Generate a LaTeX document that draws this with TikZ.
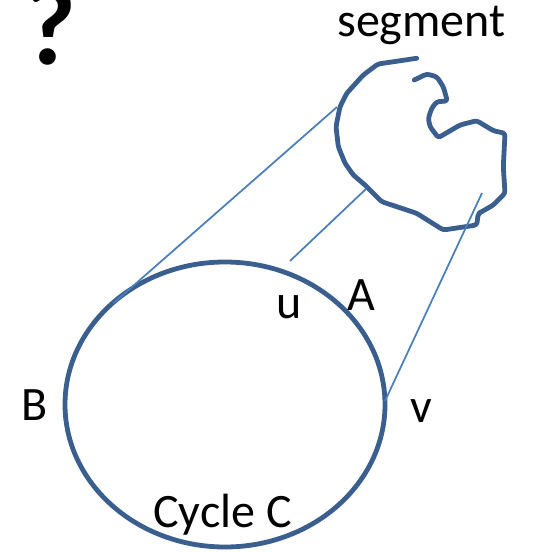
\documentclass[tikz,border=0pt]{standalone}
\usepackage{fontspec}
\usetikzlibrary{shapes.geometric}
\setmainfont{Carlito}
\definecolor{dkblue}{HTML}{3A5F8F}
\definecolor{ltblue}{HTML}{4A7EBB}
\tikzset{
  thick stroke/.style={draw=dkblue, line width=3.6pt, line join=round, line cap=round},
  thin stroke/.style={draw=ltblue, line width=1.3pt},
  lbl/.style={font=\fontsize{36}{42}\selectfont, inner sep=0pt, anchor=base west},
}
\begin{document}
\begin{tikzpicture}[x=0.75pt,y=-0.75pt]
\useasboundingbox (0,0) rectangle (533,552);
% cycle
\node[thick stroke, ellipse, minimum width=240pt, minimum height=213.75pt, inner sep=0pt] (cyc) at (225,404.5) {};
% segment
\draw[thick stroke, rounded corners=2pt] (416.7,58.3) -- (378,64) -- (363.3,75) -- (346.7,93.3) -- (340,106.7) -- (336,126.7) -- (338.3,146.7) -- (345,163.3) -- (353.3,175) -- (365,185) -- (381.7,201.7) -- (416.7,213.3) -- (430,221.7) -- (443.3,230) -- (476.7,225) -- (478.3,213.3) -- (481.7,211.7) -- (493.3,205) -- (505,193.3) -- (503.3,166.7) -- (505,133.3) -- (493.3,130.7) -- (476.7,120.7) -- (460,125) -- (438.3,137.7) -- (430,126.7) -- (428.3,118.3) -- (431.7,108.3) -- (436.7,101.7) -- (447.3,101) -- (443.3,86.7) -- (436.7,76.7) -- (426.7,74) -- (414.3,80);
% connectors
\coordinate (l1a) at (113.3,303.3);
\coordinate (l1b) at (337,107);
\coordinate (l2a) at (290,261);
\coordinate (l2b) at (366,189);
\coordinate (l3a) at (385,401);
\coordinate (l3b) at (482,193);
\draw[thin stroke] (l1a) -- (l1b);
\draw[thin stroke] (l2a) -- (l2b);
\draw[thin stroke] (l3a) -- (l3b);
% labels
\node[lbl] (seg) at (337,37) {segment};
\node[lbl] (u) at (276,318) {u};
\node[lbl] (A) at (347,310) {A};
\node[lbl] (B) at (21,420) {B};
\node[lbl] (v) at (410,422) {v};
\node[lbl] (cc) at (153,527) {Cycle C};
\node[font=\fontsize{84}{90}\selectfont\bfseries, inner sep=0pt, anchor=base] (q) at (50,65) {?};
\end{tikzpicture}
\end{document}
